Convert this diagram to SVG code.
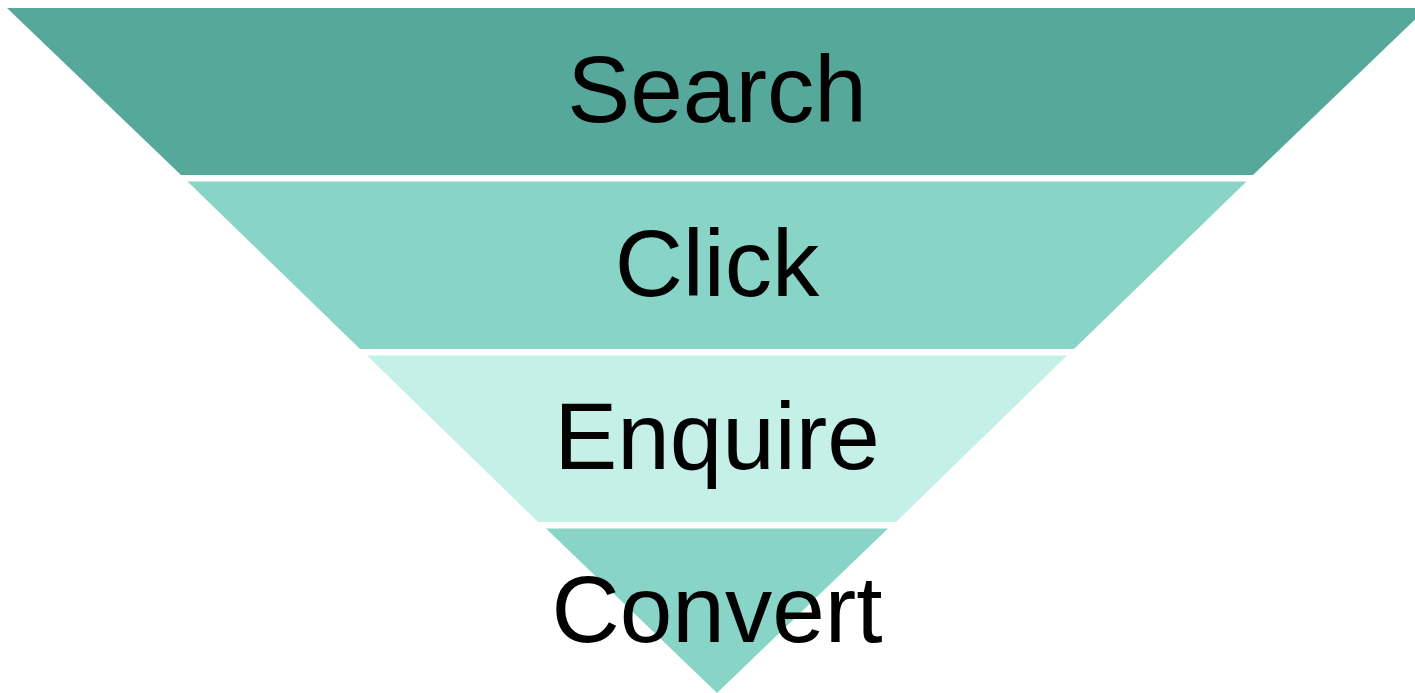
<svg xmlns="http://www.w3.org/2000/svg" width="1415" height="693" viewBox="0 0 1415 693">
<style>
.lbl{font-family:"Liberation Sans",Arial,sans-serif;font-size:94.5px;fill:#000;text-anchor:middle}
.b1{fill:#56A89A}.b2{fill:#88D5C7}.b3{fill:#C4F0E7}
</style>
<rect width="1415" height="693" fill="#fff"/>
<g id="search"><polygon class="b1" points="7,8 1427,8 1253,175 181,175"/><text class="lbl" x="717" y="122">Search</text></g>
<g id="click"><polygon class="b2" points="187.5,181.5 1246.5,181.5 1074,349 360,349"/><text class="lbl" x="717" y="296">Click</text></g>
<g id="enquire"><polygon class="b3" points="367,355.5 1067,355.5 896,522 538,522"/><text class="lbl" x="717" y="469">Enquire</text></g>
<g id="convert"><polygon class="b2" points="546,528.5 888,528.5 717,693"/><text class="lbl" x="717" y="642">Convert</text></g>
<g id="connectors"/>
</svg>
